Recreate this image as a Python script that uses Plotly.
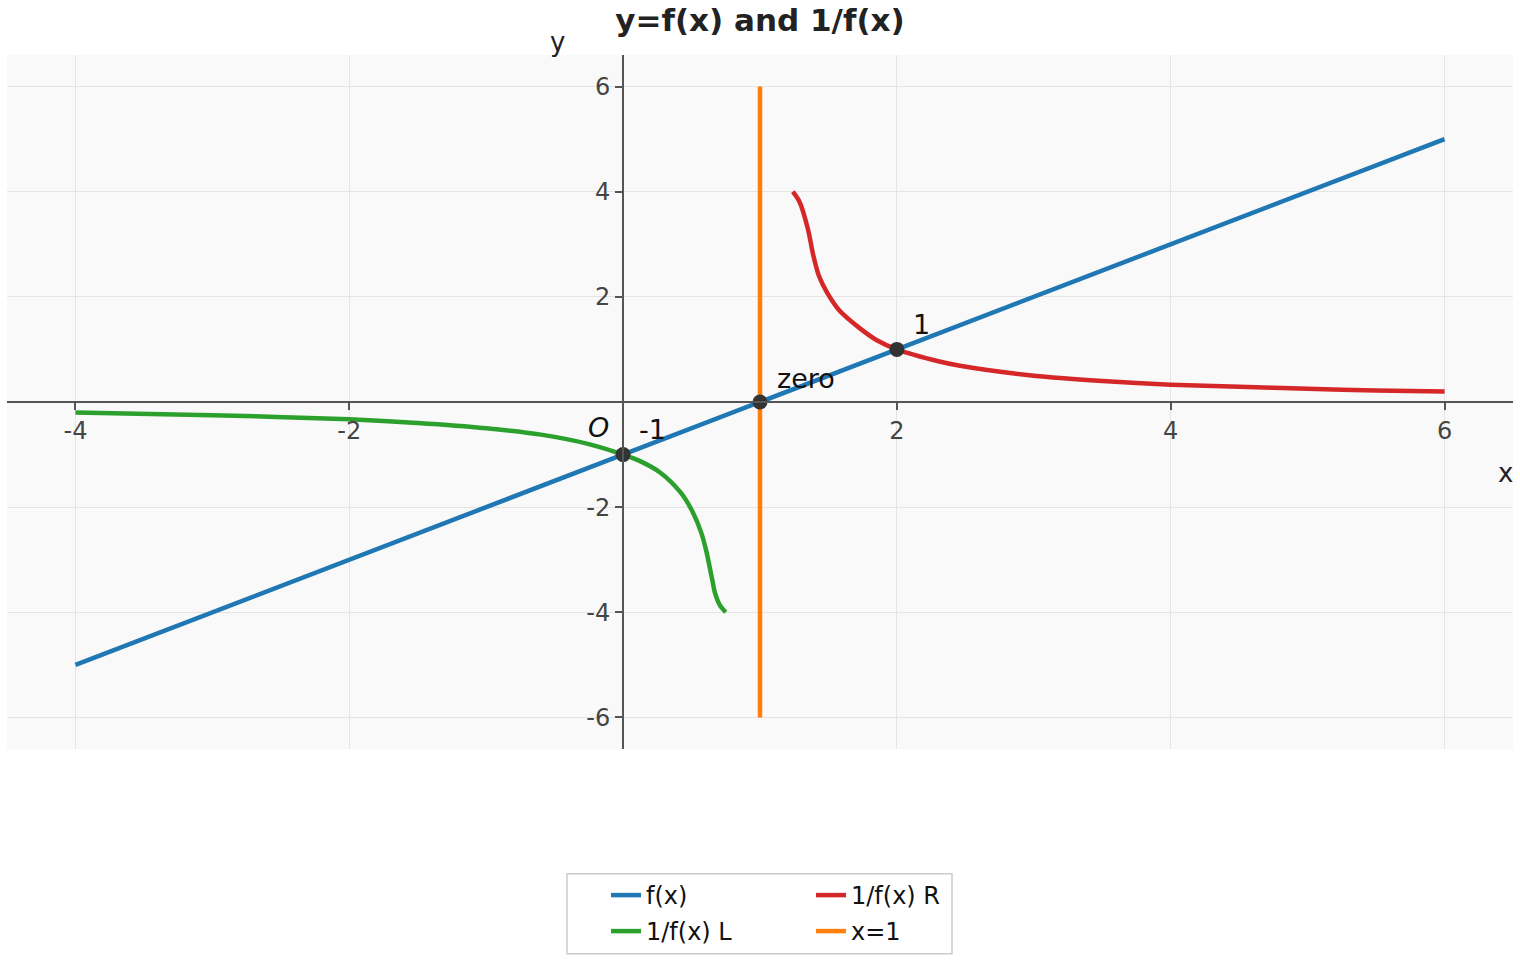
import plotly.graph_objects as go

# ---- data ----
fx_x = [-4, 6]
fx_y = [-5, 5]

left_x = [-4, -3, -2, -1.5, -1, -0.6, -0.25, 0, 0.12, 0.27, 0.42, 0.51, 0.57, 0.61, 0.64, 0.655, 0.67, 0.708, 0.75]
left_y = [-0.2, -0.25, -0.33, -0.4, -0.5, -0.62, -0.8, -1.0, -1.12, -1.34, -1.72, -2.1, -2.48, -2.86, -3.24, -3.43, -3.62, -3.87, -4.0]

right_x = [1.24, 1.29, 1.35, 1.39, 1.43, 1.49, 1.58, 1.73, 1.85, 2.0, 2.31, 2.46, 3.0, 3.5, 4.0, 4.5, 5.0, 5.5, 6.0]
right_y = [4.0, 3.8, 3.29, 2.78, 2.4, 2.08, 1.74, 1.40, 1.18, 1.0, 0.77, 0.69, 0.5, 0.4, 0.33, 0.29, 0.25, 0.22, 0.2]

asym_x = [1, 1]
asym_y = [-6, 6]

pts_x = [0, 1, 2]
pts_y = [-1, 0, 1]
pts_labels = ["-1", "zero", "1"]

x_ticks = [-4, -2, 2, 4, 6]
y_ticks = [-6, -4, -2, 2, 4, 6]

FONT = "DejaVu Sans"
BLUE, GREEN, RED, ORANGE = "#1f77b4", "#2ca02c", "#d62728", "#ff7f0e"
LW = 4.5

fig = go.Figure()
fig.add_trace(go.Scatter(x=fx_x, y=fx_y, mode="lines", name="f(x)",
                         line=dict(color=BLUE, width=LW), legend="legend", legendrank=1))
fig.add_trace(go.Scatter(x=left_x, y=left_y, mode="lines", name="1/f(x) L",
                         line=dict(color=GREEN, width=LW, shape="spline", smoothing=0.8),
                         legend="legend2", legendrank=1))
fig.add_trace(go.Scatter(x=right_x, y=right_y, mode="lines", name="1/f(x) R",
                         line=dict(color=RED, width=LW, shape="spline", smoothing=0.8),
                         legend="legend", legendrank=2))
fig.add_trace(go.Scatter(x=asym_x, y=asym_y, mode="lines", name="x=1",
                         line=dict(color=ORANGE, width=LW), legend="legend2", legendrank=2))
fig.add_trace(go.Scatter(x=pts_x, y=pts_y, mode="markers", showlegend=False,
                         marker=dict(color="#333333", size=15)))

ann_font = dict(family=FONT, size=27, color="#111111")
shifts = [(29, 25), (46, 24), (25, 25)]
for (px, py, lab), (dx, dy) in zip(zip(pts_x, pts_y, pts_labels), shifts):
    fig.add_annotation(x=px, y=py, xref="x", yref="y", text=lab, showarrow=False,
                       xshift=dx, yshift=dy, font=ann_font)
fig.add_annotation(x=0, y=-1, xref="x", yref="y", text="<i>O</i>", showarrow=False,
                   xshift=-25, yshift=27, font=ann_font)

# layout geometry
L, R, T, B = 7, 7, 55, 210
W, H = 1520, 960
pw, ph = W - L - R, H - T - B


def px2x(p):
    return (p - L) / pw


def px2y(p):
    return (H - B - p) / ph


fig.add_annotation(x=px2x(557), y=px2y(42), xref="paper", yref="paper", text="y",
                   xanchor="center", yanchor="middle",
                   showarrow=False, font=dict(family=FONT, size=26, color="#222222"))
fig.add_annotation(x=px2x(1505), y=px2y(474), xref="paper", yref="paper", text="x",
                   xanchor="center", yanchor="middle",
                   showarrow=False, font=dict(family=FONT, size=26, color="#222222"))

# legend frame
fig.add_shape(type="rect", xref="paper", yref="paper",
              x0=px2x(567), x1=px2x(952), y0=px2y(955), y1=px2y(875),
              line=dict(color="#cccccc", width=1.5), fillcolor="white", layer="above")

axis_common = dict(showgrid=True, gridcolor="#e4e4e4", gridwidth=1, zeroline=False,
                   showline=True, linecolor="#555555", linewidth=2,
                   ticks="outside", ticklen=7, tickwidth=1.5, tickcolor="#555555",
                   tickfont=dict(family=FONT, size=24, color="#444444"),
                   anchor="free")

leg_common = dict(orientation="h", xanchor="left", yanchor="top",
                  entrywidth=160, bgcolor="rgba(0,0,0,0)", borderwidth=0,
                  font=dict(family=FONT, size=24, color="#111111"), traceorder="normal")

fig.update_layout(
    width=W, height=H,
    margin=dict(l=L, r=R, t=T, b=B),
    paper_bgcolor="white",
    plot_bgcolor="#f9f9f9",
    title=dict(text="<b>y=f(x) and 1/f(x)</b>", x=0.5, xanchor="center",
               y=1 - 20 / H, yanchor="middle", yref="container",
               font=dict(family=FONT, size=31, color="#222222")),
    xaxis=dict(range=[-4.5, 6.5], tickvals=x_ticks, ticktext=[str(v) for v in x_ticks],
               position=0.5, **axis_common),
    yaxis=dict(range=[-6.6, 6.6], tickvals=y_ticks, ticktext=[str(v) for v in y_ticks],
               position=4.5 / 11, **axis_common),
    legend=dict(x=px2x(606), y=px2y(873), **leg_common),
    legend2=dict(x=px2x(606), y=px2y(909), **leg_common),
    showlegend=True,
)

fig.write_html("out.html")
